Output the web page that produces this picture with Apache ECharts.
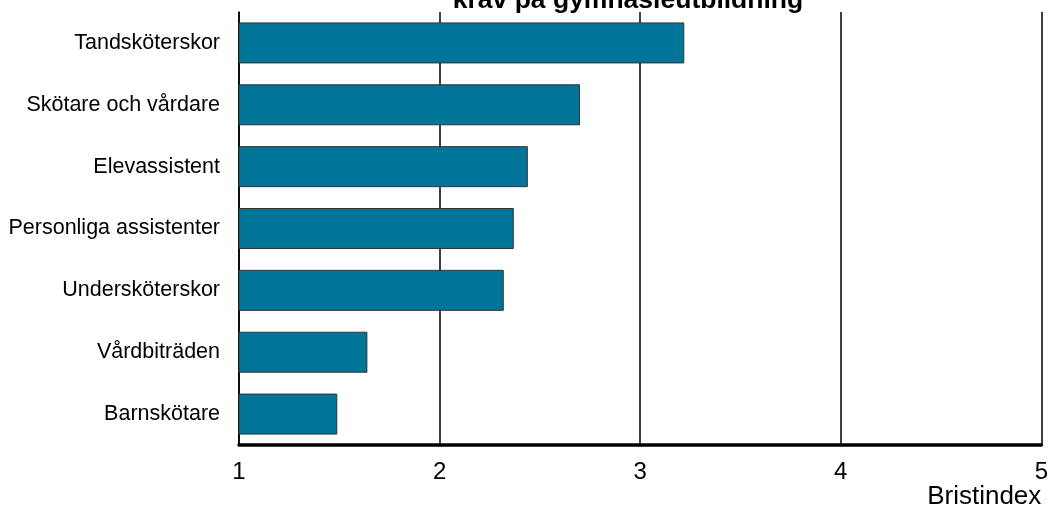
<!DOCTYPE html>
<html>
<head>
<meta charset="utf-8">
<script src="https://cdn.jsdelivr.net/npm/echarts@6/dist/echarts.min.js"></script>
<style>
html,body{margin:0;padding:0;background:#fff;}
#main{width:1051px;height:510px;}
</style>
</head>
<body>
<div id="main"></div>
<script>
const categories = ['Tandsköterskor','Skötare och vårdare','Elevassistent','Personliga assistenter','Undersköterskor','Vårdbiträden','Barnskötare'];
const values = [3.22, 2.70, 2.44, 2.37, 2.32, 1.64, 1.49];
const titleText = 'krav på gymnasieutbildning';
const axisName = 'Bristindex';

const FONT = '"Liberation Sans", Arial, sans-serif';
const chart = echarts.init(document.getElementById('main'));
chart.setOption({
  animation: false,
  backgroundColor: '#fff',
  graphic: [{
    type: 'text',
    x: 628,
    y: 14,
    z: 100,
    style: { text: titleText, fill: '#000', font: 'bold 26.5px "Liberation Sans", Arial, sans-serif', textAlign: 'center', textVerticalAlign: 'bottom', verticalAlign: 'bottom' }
  }],
  grid: { left: 239, right: 7, top: 12, bottom: 63, containLabel: false },
  xAxis: {
    type: 'value', min: 1, max: 5, interval: 1,
    axisLine: { show: true, onZero: false, lineStyle: { color: '#000', width: 3.5 } },
    axisTick: { show: false },
    splitLine: { show: true, lineStyle: { color: '#000', width: 1.5 } },
    axisLabel: { color: '#000', fontSize: 24, margin: 15, fontFamily: FONT },
    name: axisName, nameLocation: 'end', nameGap: 0,
    nameTextStyle: { color: '#000', fontSize: 26, align: 'right', verticalAlign: 'top', padding: [39, 0, 0, 0], fontFamily: FONT }
  },
  yAxis: {
    type: 'category', data: categories, inverse: true,
    axisLine: { show: true, lineStyle: { color: '#000', width: 1.5 } },
    axisTick: { show: false },
    axisLabel: { color: '#000', fontSize: 21.5, margin: 19, fontFamily: FONT }
  },
  series: [{
    type: 'bar', data: values, barWidth: 41,
    itemStyle: { color: '#007597', borderColor: '#333', borderWidth: 1 }
  }]
});
</script>
</body>
</html>
